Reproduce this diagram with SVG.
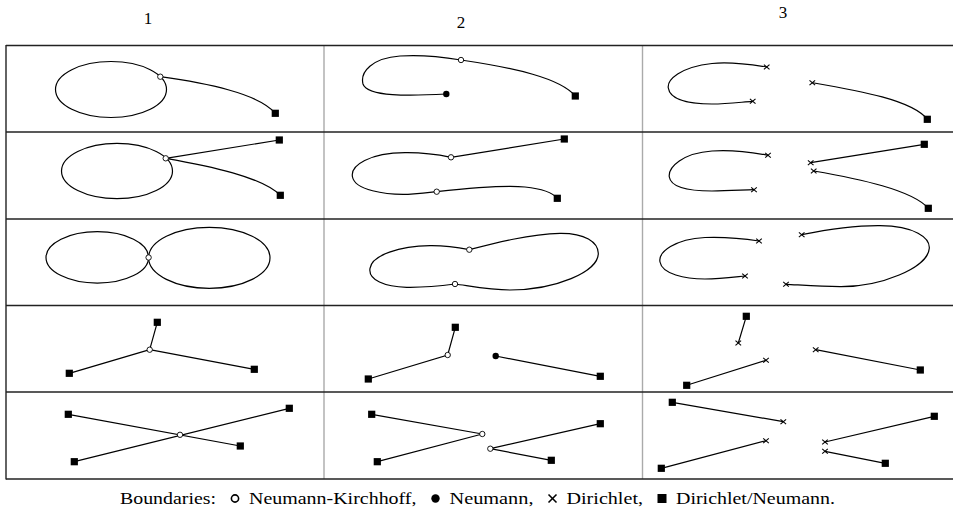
<svg xmlns="http://www.w3.org/2000/svg" xmlns:xlink="http://www.w3.org/1999/xlink" width="953" height="514" viewBox="0 0 953 514">
<style>
.c{fill:none;stroke:#000;stroke-width:1.2}
.hl{stroke:#222;stroke-width:1.4}
.vl{stroke:#aaa;stroke-width:1.4}
.t{font-family:"Liberation Serif","DejaVu Serif",serif;font-size:17.5px;fill:#000}
.h{font-family:"Liberation Serif","DejaVu Serif",serif;font-size:17px;fill:#000;text-anchor:middle}
</style>
<defs>
<rect id="sq" x="-3.6" y="-3.6" width="7.2" height="7.2" fill="#000"/>
<circle id="nk" r="2.7" fill="#fff" stroke="#000" stroke-width="0.9"/>
<circle id="nd" r="3.2" fill="#000"/>
<g id="dx" stroke="#000" stroke-width="1.1"><line x1="-2.8" y1="-2.4" x2="2.8" y2="2.4"/><line x1="-2.8" y1="2.4" x2="2.8" y2="-2.4"/></g>
</defs>
<rect width="953" height="514" fill="#fff"/>
<g id="headers">
<text class="h" x="148" y="24">1</text>
<text class="h" x="461" y="28">2</text>
<text class="h" x="783" y="18">3</text>
</g>
<g id="grid">
<line class="vl" x1="324" y1="45.5" x2="324" y2="479"/>
<line class="vl" x1="642.5" y1="45.5" x2="642.5" y2="479"/>
<line class="hl" x1="6" y1="45.5" x2="953" y2="45.5"/>
<line class="hl" x1="6" y1="132" x2="953" y2="132"/>
<line class="hl" x1="6" y1="219" x2="953" y2="219"/>
<line class="hl" x1="6" y1="305.5" x2="953" y2="305.5"/>
<line class="hl" x1="6" y1="392" x2="953" y2="392"/>
<line class="hl" x1="6" y1="479" x2="953" y2="479"/>
<line class="hl" x1="6" y1="45" x2="6" y2="479.5"/>
</g>
<g id="connectors">
<ellipse class="c" cx="111" cy="89.5" rx="55.5" ry="28"/>
<path class="c" d="M160.3,76.7 C205,83 258,93 275.3,113.3"/>
<ellipse class="c" cx="117" cy="171" rx="55.5" ry="27.7"/>
<path class="c" d="M165.7,158.3 L279.3,140 M165.7,158.3 C210,166 262,177 280.3,195.3"/>
<ellipse class="c" cx="97.3" cy="257.4" rx="51.3" ry="25.7"/>
<ellipse class="c" cx="209.3" cy="257.8" rx="60.7" ry="30.5"/>
<path class="c" d="M149.7,349.7 L157.3,322.3 M149.7,349.7 L69.3,373.3 M149.7,349.7 L254.3,369.3"/>
<path class="c" d="M68.3,414.3 L240.3,446 M74.3,461.7 L289.3,408.3"/>
<path class="c" d="M575.3,96 C560,78 515,68 461,60 C440,56.5 420,54.5 400,56 C372,58 360,72 363,84 C367,97 410,96 446.3,94"/>
<path class="c" d="M564.3,139 L451,157.3 C435,154 420,152.5 405,152.7 C370,153 350,165 352.5,177 C355,190 385,195 408,194.3 C420,193.5 430,192.5 436.7,191.7 C470,188 505,185 525,187 C545,189 553,193 557.3,198.3"/>
<path class="c" d="M469.3,249.7 C495,243 530,234 560,233.3 C585,233 598,242 598.3,253.3 C598.5,272 555,290 510,290 C490,290 470,286 455,284 C440,286 420,287.5 406.7,287.3 C385,287 368,280 370,268.3 C372,255 400,246 430,245.7 C445,245.5 458,247.5 469.3,249.7 Z"/>
<path class="c" d="M455.3,327.3 L447.7,355 L368.3,379 M495.7,356 L600.3,376.3"/>
<path class="c" d="M371.7,414.3 L482.3,434 L377.3,461.7 M600.3,423.7 L490.3,448.7 L551.3,460.3"/>
<path class="c" d="M766.7,67 C745,63.5 725,62 712,63.5 C680,67 667,80 668.3,88 C670,100 690,104 712,104 C728,104 742,102 752.7,101.3 M812.3,82.7 C860,91 912,100 927.3,119.3"/>
<path class="c" d="M768,155.3 C745,151 725,150 712,151 C683,153 668,167 669.3,177 C671,188 690,191 712,191 C728,191 742,190 754,189.7 M810.7,162.7 L924.3,144.3 M813.7,171 C860,179 912,190 928.3,208.3"/>
<path class="c" d="M759,241 C740,238 720,237 705,237.5 C675,239 658,252 660,262 C662,274 685,279 705,279 C720,279 735,277 745,276 M801.7,234.7 C830,229 860,225.5 880,225.7 C915,226 930,238 929.3,248.3 C928,268 880,287 840,286.7 C820,286.5 800,285 786,284.3"/>
<path class="c" d="M746.3,316.3 L738.3,343 M766,360.3 L686.7,385.3 M815.7,349.7 L920.3,370"/>
<path class="c" d="M672.3,402.3 L783.3,421.7 M766,440.7 L661.3,468.3 M825,442 L934.3,416.3 M825,451.3 L885.3,463.3"/>
</g>
<g id="r1c1"><use href="#nk" x="160.3" y="76.7"/><use href="#sq" x="275.3" y="113.3"/></g>
<g id="r2c1"><use href="#nk" x="165.7" y="158.3"/><use href="#sq" x="279.3" y="140"/><use href="#sq" x="280.3" y="195.3"/></g>
<g id="r3c1"><use href="#nk" x="148.6" y="257.5"/></g>
<g id="r4c1"><use href="#nk" x="149.7" y="349.7"/><use href="#sq" x="157.3" y="322.3"/><use href="#sq" x="69.3" y="373.3"/><use href="#sq" x="254.3" y="369.3"/></g>
<g id="r5c1"><use href="#nk" x="180" y="434.8"/><use href="#sq" x="68.3" y="414.3"/><use href="#sq" x="289.3" y="408.3"/><use href="#sq" x="240.3" y="446"/><use href="#sq" x="74.3" y="461.7"/></g>
<g id="r1c2"><use href="#nd" x="446.3" y="94"/><use href="#nk" x="461" y="60"/><use href="#sq" x="575.3" y="96"/></g>
<g id="r2c2"><use href="#nk" x="451" y="157.3"/><use href="#sq" x="564.3" y="139"/><use href="#nk" x="436.7" y="191.7"/><use href="#sq" x="557.3" y="198.3"/></g>
<g id="r3c2"><use href="#nk" x="469.3" y="249.7"/><use href="#nk" x="455" y="284"/></g>
<g id="r4c2"><use href="#sq" x="455.3" y="327.3"/><use href="#nk" x="447.7" y="355"/><use href="#sq" x="368.3" y="379"/><use href="#nd" x="495.7" y="356"/><use href="#sq" x="600.3" y="376.3"/></g>
<g id="r5c2"><use href="#sq" x="371.7" y="414.3"/><use href="#nk" x="482.3" y="434"/><use href="#sq" x="377.3" y="461.7"/><use href="#nk" x="490.3" y="448.7"/><use href="#sq" x="600.3" y="423.7"/><use href="#sq" x="551.3" y="460.3"/></g>
<g id="r1c3"><use href="#dx" x="766.7" y="67"/><use href="#dx" x="752.7" y="101.3"/><use href="#dx" x="812.3" y="82.7"/><use href="#sq" x="927.3" y="119.3"/></g>
<g id="r2c3"><use href="#dx" x="768" y="155.3"/><use href="#dx" x="754" y="189.7"/><use href="#dx" x="810.7" y="162.7"/><use href="#sq" x="924.3" y="144.3"/><use href="#dx" x="813.7" y="171"/><use href="#sq" x="928.3" y="208.3"/></g>
<g id="r3c3"><use href="#dx" x="759" y="241"/><use href="#dx" x="745" y="276"/><use href="#dx" x="801.7" y="234.7"/><use href="#dx" x="786" y="284.3"/></g>
<g id="r4c3"><use href="#sq" x="746.3" y="316.3"/><use href="#dx" x="738.3" y="343"/><use href="#dx" x="766" y="360.3"/><use href="#sq" x="686.7" y="385.3"/><use href="#dx" x="815.7" y="349.7"/><use href="#sq" x="920.3" y="370"/></g>
<g id="r5c3"><use href="#sq" x="672.3" y="402.3"/><use href="#dx" x="783.3" y="421.7"/><use href="#dx" x="766" y="440.7"/><use href="#sq" x="661.3" y="468.3"/><use href="#dx" x="825" y="442"/><use href="#sq" x="934.3" y="416.3"/><use href="#dx" x="825" y="451.3"/><use href="#sq" x="885.3" y="463.3"/></g>
<g id="caption">
<text class="t" x="120" y="504" textLength="96" lengthAdjust="spacingAndGlyphs">Boundaries:</text>
<circle cx="235" cy="498.5" r="3.6" fill="none" stroke="#000" stroke-width="1.6"/>
<text class="t" x="249" y="504" textLength="167.5" lengthAdjust="spacingAndGlyphs">Neumann-Kirchhoff,</text>
<circle cx="435.5" cy="498.5" r="4.2" fill="#000"/>
<text class="t" x="449.5" y="504" textLength="84" lengthAdjust="spacingAndGlyphs">Neumann,</text>
<g stroke="#000" stroke-width="1.6"><line x1="548.5" y1="494.5" x2="556.5" y2="502.5"/><line x1="548.5" y1="502.5" x2="556.5" y2="494.5"/></g>
<text class="t" x="566.5" y="504" textLength="76.5" lengthAdjust="spacingAndGlyphs">Dirichlet,</text>
<rect x="657.5" y="494" width="9" height="9" fill="#000"/>
<text class="t" x="676" y="504" textLength="159" lengthAdjust="spacingAndGlyphs">Dirichlet/Neumann.</text>
</g>
</svg>
